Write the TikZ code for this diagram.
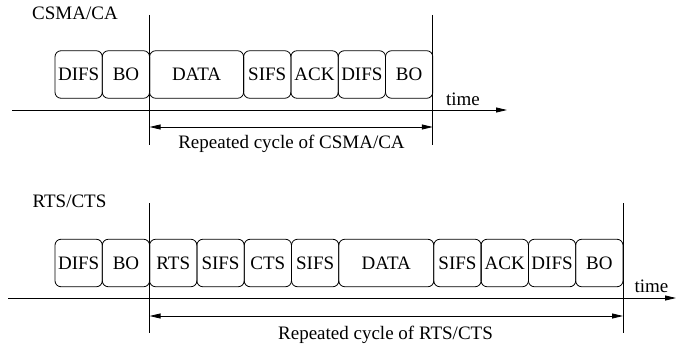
\documentclass[tikz,border=0pt]{standalone}
\usepackage{fontspec}
\setmainfont{Liberation Serif}
\usetikzlibrary{arrows.meta,positioning}

\begin{document}
\begin{tikzpicture}[x=1pt,y=-1pt,line width=0.8pt,
    every node/.style={font=\fontsize{19}{22}\selectfont},
    slot/.style={draw,rounded corners=6pt,minimum width=47.3pt,minimum height=47.5pt,inner sep=0pt,outer sep=0pt},
    >={Triangle[length=11pt,width=5pt]}]
\useasboundingbox (0,0) rectangle (676,345);

% CSMA/CA
\node (csma) at (75,13.5) {CSMA/CA};
\begin{scope}[node distance=0pt]
    \node[slot] (difsA) at (78.65,74.5) {DIFS};
    \node[slot,right=of difsA] (boA) {BO};
    \node[slot,right=of boA,minimum width=94pt] (dataA) {DATA};
    \node[slot,right=of dataA] (sifsA) {SIFS};
    \node[slot,right=of sifsA] (ackA) {ACK};
    \node[slot,right=of ackA] (difsA2) {DIFS};
    \node[slot,right=of difsA2] (boA2) {BO};
\end{scope}

\coordinate (upA) at (0,15);
\coordinate (lowA) at (0,145);
\coordinate (cycA) at (0,127);
\coordinate (axisA0) at (12,110);
\coordinate (axisA1) at (507,110);

\draw (boA.east |- upA) -- (boA.east |- lowA);
\draw (boA2.east |- upA) -- (boA2.east |- lowA);
\draw [->] (axisA0) -- (axisA1);
\draw [<->] (boA.east |- cycA) -- (boA2.east |- cycA);
\node (timeA) at (463,99) {time};
\node (cycleA) at (291.5,144) {Repeated cycle of CSMA/CA};

% RTS/CTS
\node (rtscts) at (69.5,201) {RTS/CTS};
\begin{scope}[node distance=0pt]
    \node[slot] (difsB) at (78.65,263) {DIFS};
    \node[slot,right=of difsB] (boB) {BO};
    \node[slot,right=of boB] (rtsB) {RTS};
    \node[slot,right=of rtsB] (sifsB) {SIFS};
    \node[slot,right=of sifsB] (ctsB) {CTS};
    \node[slot,right=of ctsB] (sifsB2) {SIFS};
    \node[slot,right=of sifsB2,minimum width=95pt] (dataB) {DATA};
    \node[slot,right=of dataB] (sifsB3) {SIFS};
    \node[slot,right=of sifsB3] (ackB) {ACK};
    \node[slot,right=of ackB] (difsB2) {DIFS};
    \node[slot,right=of difsB2] (boB2) {BO};
\end{scope}

\coordinate (upB) at (0,203);
\coordinate (lowB) at (0,333);
\coordinate (cycB) at (0,316);
\coordinate (axisB0) at (8,298);
\coordinate (axisB1) at (676,298);

\draw (boB.east |- upB) -- (boB.east |- lowB);
\draw (boB2.east |- upB) -- (boB2.east |- lowB);
\draw [->] (axisB0) -- (axisB1);
\draw [<->] (boB.east |- cycB) -- (boB2.east |- cycB);
\node (timeB) at (651.5,286) {time};
\node (cycleB) at (385.5,334.5) {Repeated cycle of RTS/CTS};
\end{tikzpicture}
\end{document}
